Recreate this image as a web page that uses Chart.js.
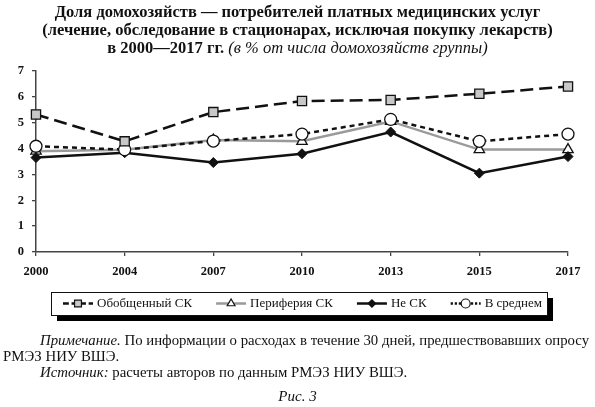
<!DOCTYPE html>
<html><head><meta charset="utf-8">
<script src="https://cdn.jsdelivr.net/npm/chart.js@4"></script>
<style>
html,body{margin:0;padding:0;background:#fff;}
#wrap{position:relative;width:595px;height:407px;overflow:hidden;}
#cv{position:absolute;left:0;top:0;}
.t{position:absolute;left:0;width:595px;text-align:center;font-family:"Liberation Serif",serif;color:#111;white-space:nowrap;}
.title{font-weight:bold;font-size:16.5px;line-height:18px;}
.note{position:absolute;font-family:"Liberation Serif",serif;font-size:14.8px;color:#111;white-space:nowrap;line-height:16px;}
</style></head>
<body><div id="wrap">
<canvas id="cv" width="595" height="407"></canvas>
<div class="t title" style="top:3px">Доля домохозяйств — потребителей платных медицинских услуг</div>
<div class="t title" style="top:21px">(лечение, обследование в стационарах, исключая покупку лекарств)</div>
<div class="t title" style="top:39px">в 2000—2017 гг. <span style="font-weight:normal;font-style:italic">(в % от числа домохозяйств группы)</span></div>
<div class="note" style="left:40px;top:332px"><i>Примечание.</i> По информации о расходах в течение 30 дней, предшествовавших опросу</div>
<div class="note" style="left:3px;top:348px">РМЭЗ НИУ ВШЭ.</div>
<div class="note" style="left:40px;top:364px"><i>Источник:</i> расчеты авторов по данным РМЭЗ НИУ ВШЭ.</div>
<div class="t" style="top:388px;font-size:15px;font-style:italic;">Рис. 3</div>
</div>
<script>
const years = ['2000','2004','2007','2010','2013','2015','2017'];
const labels = ['Обобщенный СК','Периферия СК','Не СК','В среднем'];
const generalSK = [5.32, 4.28, 5.41, 5.84, 5.88, 6.12, 6.40];
const peripherySK = [3.90, 3.95, 4.33, 4.28, 5.05, 3.96, 3.96];
const notSK = [3.65, 3.84, 3.46, 3.80, 4.64, 3.05, 3.69];
const average = [4.09, 3.96, 4.29, 4.56, 5.13, 4.28, 4.56];
const yTicks = [0,1,2,3,4,5,6,7];

const datasets = [
  {label:labels[0], data:generalSK, borderColor:'#111', borderWidth:2.5, borderDash:[13,6],
   pointStyle:'rect', pointRadius:6.5, pointBackgroundColor:'#c8c8c8', pointBorderColor:'#111', pointBorderWidth:1.3, order:0},
  {label:labels[1], data:peripherySK, borderColor:'#9a9a9a', borderWidth:2.5, borderDash:[],
   pointStyle:'triangle', pointRadius:6, pointBackgroundColor:'#fff', pointBorderColor:'#111', pointBorderWidth:1.3, order:3},
  {label:labels[2], data:notSK, borderColor:'#111', borderWidth:2.5, borderDash:[],
   pointStyle:'rectRot', pointRadius:5, pointBackgroundColor:'#111', pointBorderColor:'#111', pointBorderWidth:1, order:2},
  {label:labels[3], data:average, borderColor:'#111', borderWidth:2.5, borderDash:[5,4],
   pointStyle:'circle', pointRadius:6, pointBackgroundColor:'#fff', pointBorderColor:'#111', pointBorderWidth:1.3, order:1}
];
datasets.forEach(d=>{d.tension=0;d.fill=false;d.pointHoverRadius=d.pointRadius;});

const legendPlugin = {
  id:'boxLegend',
  afterDraw(chart){
    const ctx = chart.ctx;
    const L=51, T=292, R=547, B=315;
    ctx.save();
    ctx.fillStyle='#000';
    ctx.fillRect(L+6, T+6, R-L, B-T);
    ctx.fillStyle='#fff';
    ctx.fillRect(L, T, R-L, B-T);
    ctx.strokeStyle='#111'; ctx.lineWidth=1;
    ctx.strokeRect(L+0.5, T+0.5, R-L, B-T);
    ctx.font='13px "Liberation Serif", serif';
    ctx.textBaseline='middle';
    let x = 63; const y = (T+B)/2;
    chart.data.datasets.forEach(ds=>{
      ctx.save();
      ctx.strokeStyle=ds.borderColor; ctx.lineWidth=2.5;
      ctx.setLineDash(ds.borderDash.length? ds.borderDash.map(v=>v*0.45):[]);
      ctx.beginPath(); ctx.moveTo(x, y); ctx.lineTo(x+30, y); ctx.stroke();
      ctx.setLineDash([]);
      ctx.fillStyle=ds.pointBackgroundColor; ctx.strokeStyle=ds.pointBorderColor;
      ctx.lineWidth=1.2;
      Chart.helpers.drawPoint(ctx, {pointStyle:ds.pointStyle, radius:ds.pointRadius*0.75, rotation:0, borderWidth:1.2}, x+15, y);
      ctx.restore();
      ctx.fillStyle='#111';
      ctx.fillText(ds.label, x+34, y+0.5);
      x += 34 + ctx.measureText(ds.label).width + 24;
    });
    ctx.restore();
  }
};

new Chart(document.getElementById('cv'), {
  type:'line',
  data:{labels:years, datasets},
  options:{
    responsive:false, animation:false,
    layout:{padding:{top:71, left:0, right:27, bottom:125}},
    plugins:{legend:{display:false}, title:{display:false}, tooltip:{enabled:false}},
    scales:{
      x:{
        offset:false,
        grid:{drawOnChartArea:false, drawTicks:true, tickLength:4, color:'#444', lineWidth:1.3},
        border:{color:'#444', width:1.5},
        ticks:{color:'#111', font:{family:'"Liberation Serif", serif', size:12.5, weight:'bold'}, padding:8, maxRotation:0},
        afterFit(s){ s.height = 30; }
      },
      y:{
        min:0, max:7,
        afterBuildTicks(s){ s.ticks = yTicks.map(v=>({value:v})); },
        grid:{drawOnChartArea:false, drawTicks:true, tickLength:4, color:'#444', lineWidth:1.3},
        border:{color:'#444', width:1.5},
        ticks:{color:'#111', font:{family:'"Liberation Serif", serif', size:12.5, weight:'bold'}, padding:8},
        afterFit(s){ s.width = 36; }
      }
    }
  },
  plugins:[legendPlugin]
});
</script>
</body></html>
